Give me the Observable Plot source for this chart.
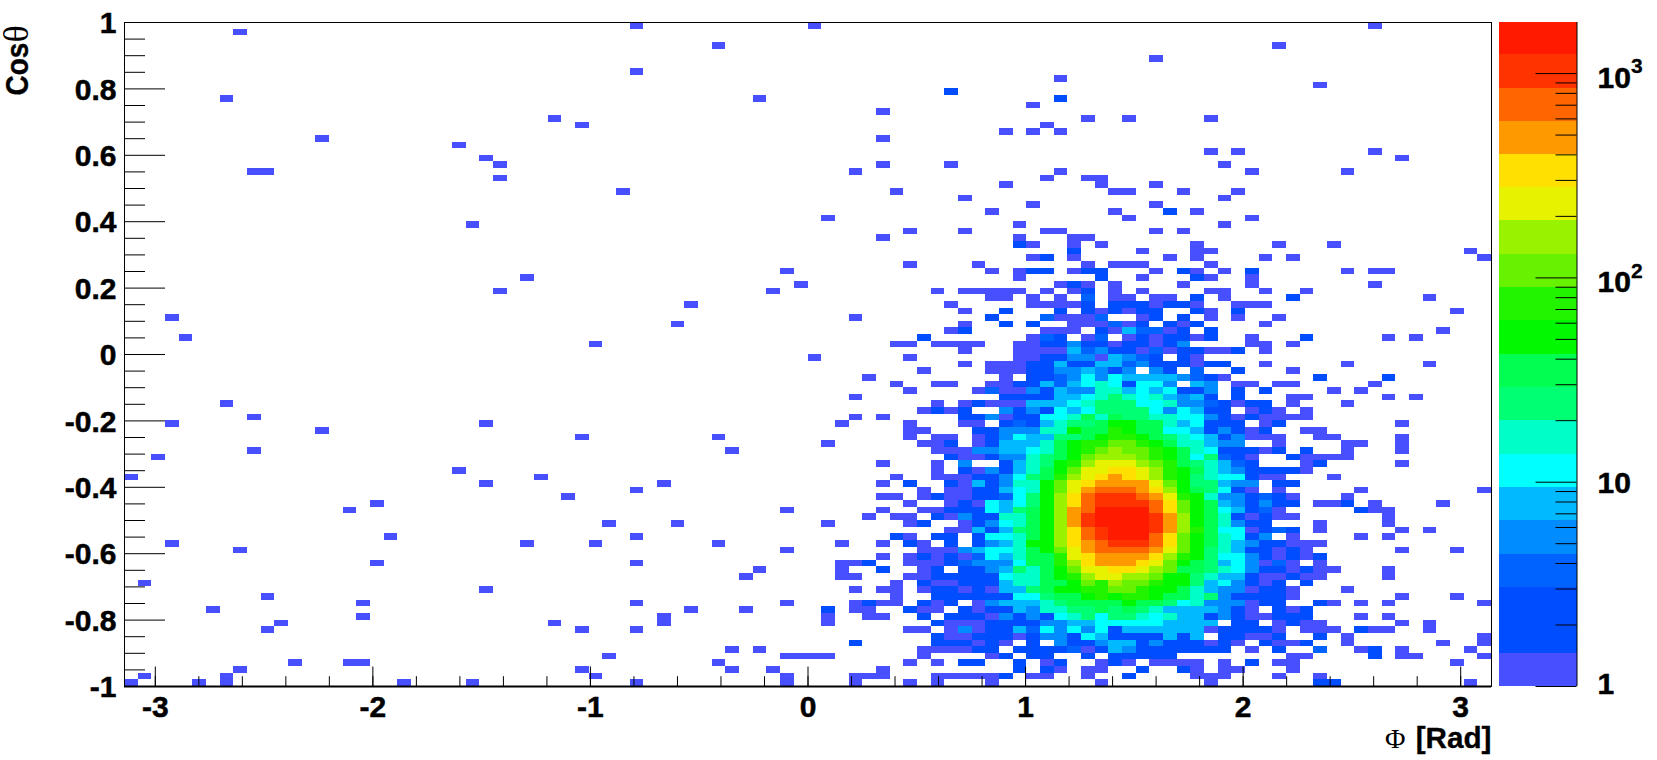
<!DOCTYPE html>
<html>
<head>
<meta charset="utf-8">
<script src="https://cdn.jsdelivr.net/npm/d3@7"></script>
<script src="https://cdn.jsdelivr.net/npm/@observablehq/plot@0.6"></script>
<style>
html,body{margin:0;padding:0;background:#fff;overflow:hidden}
#chart{position:relative;width:1657px;height:760px;background:#fff}
#chart svg{position:absolute;top:0;overflow:visible;background:transparent}
</style>
</head>
<body>
<div id="chart"></div>
<script>
// Colour levels (bottom to top of the palette)
const palette = ["#474fff","#004cff","#004cff","#0062ff","#008cff","#00b9ff","#00ffff","#00ffc8","#00ff73","#00ff50","#00f800","#22f400","#66f200","#99f200","#e6f200","#ffe000","#ff9900","#ff6600","#ff3300","#ff1a00"];
const levelEdges = [1,1.45,2.11,3.06,4.45,6.49,9.44,13.7,20,29,42,61.7,89.7,130,190,276,402,584,849,1235,1778];
const levelCounts = [1,2,3,4,5,8,11,16,24,35,50,73,106,155,230,330,480,700,1000,1500];

const xLabels = [-3,-2,-1,0,1,2,3];
const xMinor = [-3,-2.8,-2.6,-2.4,-2.2,-2,-1.8,-1.6,-1.4,-1.2,-1,-0.8,-0.6,-0.4,-0.2,0,0.2,0.4,0.6,0.8,1,1.2,1.4,1.6,1.8,2,2.2,2.4,2.6,2.8,3];
const yLabels = [-1,-0.8,-0.6,-0.4,-0.2,0,0.2,0.4,0.6,0.8,1];
const yMinor = [-0.95,-0.9,-0.85,-0.75,-0.7,-0.65,-0.55,-0.5,-0.45,-0.35,-0.3,-0.25,-0.15,-0.1,-0.05,0.05,0.1,0.15,0.25,0.3,0.35,0.45,0.5,0.55,0.65,0.7,0.75,0.85,0.9,0.95];
const barMajor = [1,10,100,1000];
const barMinor = [2,3,4,5,6,7,8,9,20,30,40,50,60,70,80,90,200,300,400,500,600,700,800,900];

// Histogram cells, one string per row from top (cosθ=1) to bottom (cosθ=-1).
// Token: column, or column range, optionally ":colourLevel" (default level 0). Columns 0..99 over Φ.
const cellRows = [
"37 50 91","8","","43 84","","75","","37","68","87",
"60:1","7 46 68:1","66","55","31 70 73 79","33 67","64 66 68","14 55","24","79 81 91",
"26 93","27 55 60 80","9-10 53 68 82 89","27 67 70-71","64 71 75","36 56 72-73 77 81","61 80","66 75","63 72 76:1 78","51 73 82",
"25 65 80","57 61 67-68 75 77","55 65 69-70","65:1 66 69 71 78 84 88","69:1 74 78-79 98",
"66 67:1 69 76 78 83 85 99",
"57 62 70 72-74 79",
"48 63 65 66-67:1 69 70-71:1 75 77:1 78 80 82:1 89 91-92",
"29 65 71:1 74 78:1 79 82",
"49 68 69:1 70 72 77 82 91",
"27 47 59 61-65 67 69 70:1 72 74 79-80 83 86",
"63-64 66 68 70:3 72-73 75-76 78:1 80 85:1 95",
"41 60 66-69 70:1 72-74:1 75 76-77:1 78 81-83",
"61 64:1 68:1 70:1 71 72:1 73 74-75:1 78:1 79 81:1 97",
"3 53 63:1 67:3 68-70 71:3 74 75:1 77:1 79 81 84",
"40 61 64:1 66:1 69-71 72:3 73 74:1 76:1 77 78:1 83",
"60 61:1 67-69 71:1 72 73:5 74-75:3 76 77:1 79:1 96",
"4 58:1 66 67:3 68:1 70 71:3 73 74:1 75 76-77:1 78 79:1 82 86:1 92 94",
"34 56-57 59-62 65-66 67-68:1 69:4 70-71:1 72 73-74:1 75 76:1 77:4 82-83 85",
"61 65-68 69:5 70:3 71:4 72-73:1 74 75:3 76 77-78:1 79-80 81:1 83",
"50 57 65-66 67-68:1 69-70:4 71 72:5 73:4 74:3 75:1 77:1 78",
"61 63-65 66-67:1 68:5 69-70:1 71-72:5 73:3 74:4 75-76:1 77:1 78 79-80:1 83 89 95",
"58 63-65 66:1 67:2 68-69:4 70:5 71:4 72:1 73:4 75:4 76:1 78:3 81:1 85",
"54 64 66-67:1 68:3 69:4 70:6 71:4 72:6 73-76:5 77:4 78:3 79:1 80 87:1 92:1",
"56 59-60 63-64 65-66:1 67:5 68:3 69:5 70:6 71:7 72:6 73:2 74-75:6 76:4 78:5 79:4 81-82 84-85 91",
"57 62 63:3 64-65 66:4 67:1 68:5 69-70:4 71-72:7 73:5 74:6 75:5 76:6 77:1 78:2 79:4 81:1 83:1 88 90",
"53 64-67:1 68-69:5 70:6 71:7 72:8 73:7 74:6 75:7 76:5 77:4 78:5 79:1 81:1 85-86 92 94",
"7 59 61 62:1 63-65 66-68:5 69:6 70:7 71-73:8 74-75:6 76:7 77-78:4 79:3 80:1 81 82:1 83:1 85 89",
"58 59:1 60 61:1 64:4 65:1 66:4 67:2 68:6 69:5 70:6 71-74:8 75:6 76:4 77:6 78:5 79-80:1 82 83:1 84 86",
"9 53 55 61-62:1 63:4 64 65:1 66:2 67-68:6 69:7 70:9 71:7 72:9 73-74:8 75-76:7 77-78:6 79:4 80:1 81 82:1 83-86",
"3 26 52 57 61-62 64:1 65:3 66:1 67:5 68:7 69-70:8 71:9 72-73:10 74-75:9 76:7 77:5 78:6 79:1 80:2 81:1 83 84:1 93",
"14 57-58 62-63:1 64-66:4 67-68:7 69:10 70-71:9 72:11 73:10 74-75:9 76-77:6 78:5 79:2 80:4 81:1 82 83:1 86-87",
"33 43 57 59-60 62 63:1 64:4 65:6 66-67:5 68-69:8 70:9 71:10 72-73:11 74:10 75:9 76:8 77:7 78:6 79:5 80:1 81:4 82-84 87-88 93",
"51 58-59 60:1 62 63:1 64-66:5 67:7 68:9 69:10 70-71:11 72-73:12 74:11 75:10 76:9 77-78:7 79:5 80-81:4 84 89-90 93",
"9 44 59-61 62-63:4 64-65:5 66:6 67:7 68:9 69:10 70:11 71:12 72:13 73-74:12 75:11 76:10 77:9 78:7 79:6 80-82:1 83 84:1 86:1 89 93",
"2 60:1 61-62 63:2 64-65:4 66:7 67:8 68:9 69:10 70:12 71-73:13 74:12 75:11 76:10 77:9 78:6 79:8 80:3 81:1 82 85:1 86-89",
"55 59 61:4 64:1 65:5 66:7 67:8 68:10 69:11 70:13 71-73:14 74:13 75:12 76:11 77:9 78:8 79:7 80:5 81:3 82:1 86 87:1 93",
"24 59 61:1 62 63:4 64:1 65:5 66:7 67:9 68:10 69:12 70-71:14 72-73:15 74:14 75:13 76:11 77:10 78:9 79:7 80:5 81:4 82-85:1 86",
"0 30 56 59-61 62-63:1 64:4 65:6 66:8 67:9 68:11 69:13 70:14 71:15 72:16 73:15 74:14 75:13 76:11 77:10 78:8 79:7 80-81:6 82:1 83 84 88",
"26 39 55 57:1 60:1 61 62:5 63:1 64:4 65-66:7 67:10 68:12 69:14 70:15 71-74:16 75:14 76:12 77:10 78-79:8 80:5 81-82:4 84-85:1",
"37 58 60-61 62-63:1 64:5 65:6 66:7 67:10 68:12 69:14 70:16 71-73:17 74:16 75:15 76:13 77:10 78:9 79:8 80:6 81:2 82 84 90 99",
"32 55-56 58 59:1 60-61 62-63:1 64:3 65:6 66:8 67:10 68:13 69:15 70:17 71-73:18 74:17 75:16 76:14 77:11 78:10 79:7 80-81:4 82:1 83:3 84:1 85 89",
"18 57 60 61:1 62 63:6 64:5 65:6 66:8 67:10 68:13 69:15 70:17 71-74:18 75:17 76:15 77:12 78:10 79:9 80:5 81:4 82:1 83:4 84-85:1 87-88 89:1 91 96",
"16 48 55 58-59 60-62:1 63:6 64:5 65:8 66:9 67:10 68:13 69:16 70:17 71-74:19 75:17 76:15 77:12 78:10 79:9 80:6 81:5 82:1 83:3 84 90:1 91-92",
"54 56-57 59:1 60 61:4 62-63:1 64-65:7 66:9 67:10 68:13 69:16 70:18 71-74:19 75:18 76:16 77:13 78:10 79:9 80:7 81:1 82 83:1 84-85 92",
"35 40 51 57 58:1 61 62:1 63:4 64:6 65:7 66:9 67:10 68:13 69:16 70:18 71-74:19 75:18 76:16 77:13 78:10 79:9 80:7 81:4 82-83:1 87 92",
"60-61 62:5 63:1 64:5 65:8 66:9 67:10 68:13 69:15 70:17 71:18 72-74:19 75:18 76:16 77:13 78:11 79:9 80-81:6 82 83:1 84:3 85:1 87 93 95",
"19 37 56:1 57 59-60:1 62:1 63-64:6 65:7 66:9 67:10 68:13 69:15 70:17 71:18 72-74:19 75:17 76:15 77:12 78:10 79:9 80:7 81:6 82:1 83:4 85 90 92",
"3 29 34 43 52 55 57:1 58 60:1 62:1 63:4 64:5 65:7 66:10 67:10 68:13 69:15 70:16 71:17 72-74:18 75:17 76:15 77:12 78:10 79:9 80:7 81:5 82:4 83-84:1 85-87",
"8 48 58-60 61:4 62:5 63-64:6 65:7 66:9 67:10 68:12 69:14 70:16 71-74:17 75:16 76:14 77:12 78:10 79:8 80:7 81:5 82-83:1 84 85:1 86 93 97",
"55 57 58:1 59 60:1 61 62:3 63:6 64:5 65:7 66-67:9 68:11 69:14 70:15 71-74:16 75:15 76:13 77:11 78:10 79:8 80-81:6 82:4 83:1 84 85:1 86 87:1",
"18 37 52-53 54:1 57-59 60:1 61:3 62-64:4 65:6 66-67:9 68:11 69:13 70:15 71-73:16 74:15 75:14 76:12 77:10 78:9 79:8 80:5 81:6 82:4 83 84:3 85 87",
"46 52 55:1 58 59:1 61:2 62:1 63:4 64:5 65:8 66:7 67:9 68:10 69:12 70-71:14 72-73:15 74:14 75:13 76:12 77-78:9 79:8 80:7 81:6 82:4 83-84:1 85 86:1 87-88 92",
"45 52-53 57-58 59-63:1 64:6 65-66:7 67:9 68:10 69:11 70:13 71-72:14 73-74:13 75:12 76-77:10 78:8 79:7 80-81:5 82:1 83 84 85:1 86-87 92",
"1 56 58:1 59-60 61-63:1 64:5 65-66:7 67-68:9 69:10 70:12 71:11 72:13 73-74:12 75:11 76-77:10 78:8 79:5 80:6 81:4 82:1 83 84:1 86:1",
"26 53 55-56 58 59-60:1 61 62:1 63 64-65:5 66:8 67:9 68-69:10 70-71:11 72-73:12 74:11 75-76:10 77:9 78:7 79:5 80-81:4 82 83:2 84:1 85 89",
"10 56 59-61:1 62:2 63-64:1 65-66:6 67:8 68-69:9 70:10 71:11 72:10 73-74:11 75:10 76-77:9 78:7 79:8 80:4 81-84:1 85 93 97",
"17 37 48 53 54:1 55-56 58:1 59 60:1 62 63:4 64-66:5 67:7 68:8 69-72:9 73:10 74-75:9 76:8 77:6 78:7 79-81:4 82 83-84:1 87:1 88 90 92 99",
"6 41 45 51:1 53-54 57:1 58-59 61:1 62 63-64:1 65:5 66:4 67-68:7 69-70:8 71:9 72:8 73:9 74:8 75:7 76-79:5 80:4 81:1 82 84:1 85 86:1",
"17 39 51 54-55 58:1 60-62:1 63 64:4 65:1 66:4 67:1 68:6 69:7 70:8 71:6 72-73:8 74:7 75:6 76:7 77-78:5 79:1 80:4 81:1 82-83 84-86:1 90 92",
"11 31 39 51 59:1 60-62 63-65:1 66:2 67-68:4 69-70:5 71-75:6 76-79:5 81-82:1 84 85:1 86-87 93 95",
"10 33 37 57-58 60 61:4 62 63:2 64:1 65:5 66:3 67:6 68:4 69:6 70:4 71:6 72:2 73-78:5 79 80-83:1 84 86-88 90:1 91-92 95",
"59:1 60-61 62-64:1 65 66:2 67-68:4 69:1 70:6 71:5 72-75:2 76:5 77:1 78:5 80-81:1 82-83 84:1 87:1 89 99",
"53:1 59-61:1 62 63:1 64 66:1 68:4 69-70:1 71:4 72-73:5 74:1 75:4 76-78:1 79 80:1 81 83:1 84-85 86:1 89 96 99",
"44 46 58-61 62-63:1 65-67:1 68:2 69:3 70 71:1 72:5 73:4 74:1 75-76:2 77-78:1 79-80:2 82 84:1 87:3 90 91:1 93 98",
"35 48-51 58 63 64:1 66:1 67:2 70:1 72-76:1 85-86 91:1 93-94 99",
"12 16-17 43 57 59 61-62:1 65:1 67 68:1 71 72:1 73 75-78 80 82:1 84-85 97",
"8 33 44 47 55 65:1 67:1 68 70-71 74:1 77:1 78 80-81 85",
"1 7 34 48 53-55 59-63 64:1 66-67 70 73:1 78-80 84 87",
"0 5 7 20 25 37 48 53 57 59 63 71 79 87-88:1 98"
];

// Expand the row strings into rectangles in data coordinates.
const nBins = 100;
const phiMin = -Math.PI, phiMax = Math.PI;
const cells = [];
cellRows.forEach((row, r) => {
  row.split(" ").filter(Boolean).forEach(tok => {
    const [span, lvl] = tok.split(":");
    const [a, b] = span.split("-").map(Number);
    for (let c = a; c <= (b === undefined ? a : b); c++) {
      cells.push({
        x1: phiMin + c * (phiMax - phiMin) / nBins,
        x2: phiMin + (c + 1) * (phiMax - phiMin) / nBins,
        y1: 1 - (r + 1) * 2 / nBins,
        y2: 1 - r * 2 / nBins,
        count: levelCounts[lvl === undefined ? 0 : +lvl]
      });
    }
  });
});

const fontBase = {fontFamily: "'Liberation Sans', Arial, sans-serif", background: "transparent", overflow: "visible"};
const mW = 1495, mH = 760, mL = 124, mR = 4, mT = 22, mB = 74;
const pxX = (mW - mL - mR) / (phiMax - phiMin);
const pxY = (mH - mT - mB) / 2;
const heavy = {fontSize: 30, fontWeight: "bold", fill: "#000", stroke: "#000", strokeWidth: 0.5};

const main = Plot.plot({
  width: mW, height: mH,
  marginLeft: mL, marginRight: mR, marginTop: mT, marginBottom: mB,
  style: fontBase,
  x: {domain: [phiMin, phiMax], axis: null},
  y: {domain: [-1, 1], axis: null},
  color: {type: "threshold", domain: levelEdges.slice(1, -1), range: palette},
  marks: [
    Plot.rect(cells, {x1: "x1", x2: "x2", y1: "y1", y2: "y2", fill: "count", shapeRendering: "crispEdges"}),
    // inward ticks, ROOT style
    Plot.ruleX(xMinor, {y1: -1, y2: -1 + 9.8 / pxY, stroke: "#000", strokeWidth: 1}),
    Plot.ruleX(xLabels, {y1: -1, y2: -1 + 19.5 / pxY, stroke: "#000", strokeWidth: 1}),
    Plot.ruleY(yLabels, {x1: phiMin, x2: phiMin + 41 / pxX, stroke: "#000", strokeWidth: 1}),
    Plot.ruleY(yMinor, {x1: phiMin, x2: phiMin + 21 / pxX, stroke: "#000", strokeWidth: 1}),
    Plot.frame({stroke: "#000", strokeWidth: 1}),
    Plot.ruleY([-1], {stroke: "#000", strokeWidth: 2}),
    // tick labels
    Plot.text(xLabels, {x: d => d, y: -1, text: d => String(d), dy: 20.5, ...heavy}),
    Plot.text(yLabels, {x: phiMin, y: d => d, text: d => String(d), dx: -8, dy: 1, textAnchor: "end", ...heavy}),
    // axis titles
    Plot.text(["[Rad]"], {frameAnchor: "bottom-right", dx: 0, dy: 61, textAnchor: "end", lineAnchor: "bottom", fontSize: 29.7, fontWeight: "bold", fill: "#000", stroke: "#000", strokeWidth: 0.3}),
    Plot.text(["Φ"], {frameAnchor: "bottom-right", dx: -86, dy: 61, textAnchor: "end", lineAnchor: "bottom", fontSize: 28, fontFamily: "'Liberation Serif', serif", fill: "#000"}),
    Plot.text(["Cos"], {frameAnchor: "top-left", dx: 27 - mL, dy: 95 - mT, rotate: -90, textAnchor: "start", lineAnchor: "bottom", fontSize: 28, fontWeight: "bold", fill: "#000", stroke: "#000", strokeWidth: 0.3}),
    Plot.text(["θ"], {frameAnchor: "top-left", dx: 27 - mL, dy: 42 - mT, rotate: -90, textAnchor: "start", lineAnchor: "bottom", fontSize: 36, fontFamily: "'Liberation Serif', serif", fill: "#000"})
  ]
});
main.style.left = "0px";
// The reference's rotated title has taller glyphs than its length alone gives.
main.querySelectorAll("text").forEach(t => {
  if (t.textContent === "Cos") t.setAttribute("transform", (t.getAttribute("transform") || "") + " scale(1,1.15)");
});

// Colour bar, a second small plot with its own log scale
const barLeft = 1495, barW = 162, bL = 4, bR = 80.5;
const barPx = barW - bL - bR;
const barBands = palette.map((color, i) => ({lo: levelEdges[i], hi: levelEdges[i + 1], count: levelCounts[i]}));
const supStyle = {fontSize: 21, fontWeight: "bold", fill: "#000", stroke: "#000", strokeWidth: 0.3};
const bar = Plot.plot({
  width: barW, height: mH,
  marginLeft: bL, marginRight: bR, marginTop: mT, marginBottom: mB,
  style: fontBase,
  x: {domain: [0, 1], axis: null},
  y: {type: "log", domain: [1, 1778], axis: null},
  color: {type: "threshold", domain: levelEdges.slice(1, -1), range: palette},
  marks: [
    Plot.rect(barBands, {x1: 0, x2: 1, y1: "lo", y2: "hi", fill: "count", shapeRendering: "crispEdges"}),
    Plot.ruleX([1], {stroke: "#000", strokeWidth: 1}),
    Plot.ruleY(barMajor, {x1: 1 - 41 / barPx, x2: 1, stroke: "#000", strokeWidth: 1}),
    Plot.ruleY(barMinor, {x1: 1 - 21 / barPx, x2: 1, stroke: "#000", strokeWidth: 1}),
    Plot.text(["1"], {x: 1, y: 1, dx: 20.5, dy: -2, textAnchor: "start", ...heavy}),
    Plot.text(["10"], {x: 1, y: 10, dx: 20.5, dy: 1, textAnchor: "start", ...heavy}),
    Plot.text(["10"], {x: 1, y: 100, dx: 20.5, dy: 5, textAnchor: "start", ...heavy}),
    Plot.text(["2"], {x: 1, y: 100, dx: 54, dy: -7, textAnchor: "start", ...supStyle}),
    Plot.text(["10"], {x: 1, y: 1000, dx: 20.5, dy: 5, textAnchor: "start", ...heavy}),
    Plot.text(["3"], {x: 1, y: 1000, dx: 54, dy: -7, textAnchor: "start", ...supStyle})
  ]
});
bar.style.left = barLeft + "px";

document.getElementById("chart").append(main, bar);
</script>
</body>
</html>
